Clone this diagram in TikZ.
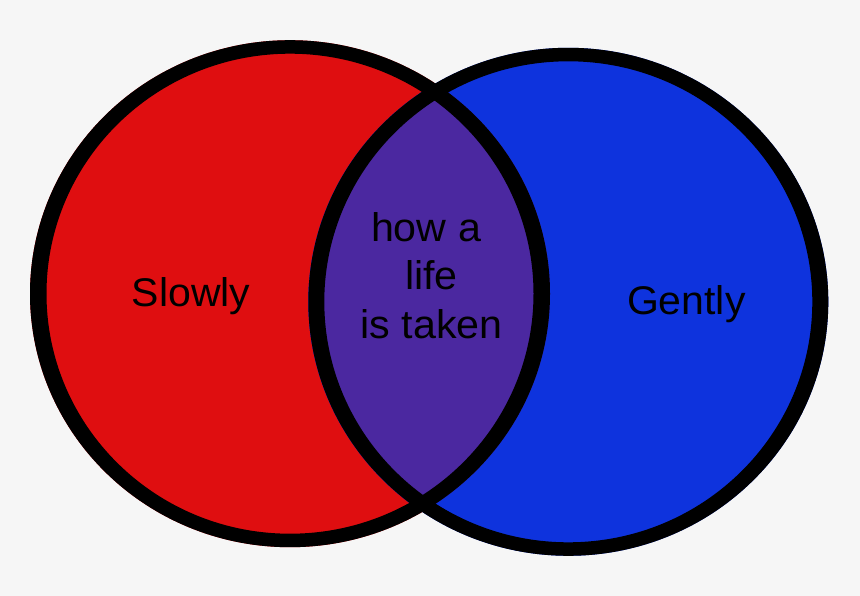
\documentclass[tikz,border=0pt]{standalone}
\usepackage{fontspec}
\setmainfont{Liberation Sans}
\definecolor{bg}{HTML}{F6F6F6}
\definecolor{vred}{HTML}{DF0E10}
\definecolor{vblue}{HTML}{0E33DD}
\definecolor{vpurple}{HTML}{4B28A0}
\begin{document}
\begin{tikzpicture}[x=1pt,y=-1pt,
  lbl/.style={font=\fontsize{40}{48}\selectfont, inner sep=0pt, anchor=base, text=black},
  ring/.style={fill=black, even odd rule}]
\fill[bg] (0,0) rectangle (860,596);
\useasboundingbox (0,0) rectangle (860,596);
% fills
\fill[vred] (290,293.7) ellipse [x radius=260, y radius=253.5];
\fill[vblue] (568.3,301.8) ellipse [x radius=260, y radius=254];
\begin{scope}
  \clip (290,293.7) ellipse [x radius=260, y radius=253.5];
  \fill[vpurple] (568.3,301.8) ellipse [x radius=260, y radius=254];
\end{scope}
% outlines
\path[ring] (290,293.7) ellipse [x radius=260, y radius=253.5]
            (290,293.7) ellipse [x radius=243.5, y radius=240];
\path[ring] (568.3,301.8) ellipse [x radius=260, y radius=254]
            (568.3,301.8) ellipse [x radius=244, y radius=240.5];
% labels
\node[lbl] (slowly) at (191,306.7) {\scalebox{1.025}[1]{Slowly}};
\node[lbl] (gently) at (686.3,314.3) {\scalebox{1.025}[1]{Gently}};
\node[lbl] (l1) at (426,241.7) {\scalebox{1.03}[1]{how a}};
\node[lbl] (l2) at (431.5,290) {\scalebox{1.03}[1]{life}};
\node[lbl] (l3) at (431.5,338.3) {\scalebox{1.03}[1]{is taken}};
\end{tikzpicture}
\end{document}
